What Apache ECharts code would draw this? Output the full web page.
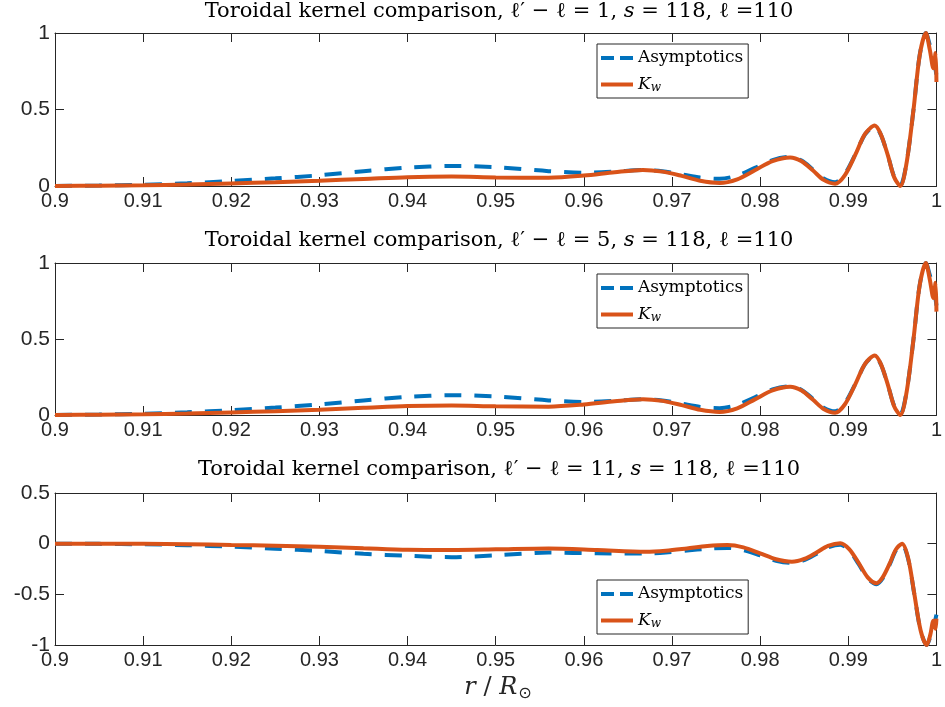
<!DOCTYPE html>
<html>
<head>
<meta charset="utf-8">
<script src="https://cdn.jsdelivr.net/npm/echarts@6/dist/echarts.min.js"></script>
<style>
  html, body { margin: 0; padding: 0; background: #fff; }
  #chart { width: 945px; height: 707px; }
</style>
</head>
<body>
<div id="chart"></div>
<script>
// radius grid (r / R_sun) for the first two panels
const r12 = [0.900, 0.905, 0.910, 0.915, 0.920, 0.925, 0.930, 0.935, 0.940, 0.945, 0.950,
  0.956, 0.960, 0.9635, 0.9667, 0.9689, 0.9711, 0.9732, 0.9754, 0.9774, 0.9794, 0.9814, 0.9834,
  0.9847, 0.9860, 0.9872, 0.9885, 0.9896, 0.9908, 0.9919, 0.9930, 0.9937, 0.9945, 0.9952, 0.9959,
  0.9966, 0.9974, 0.9981, 0.9988, 0.99925, 0.99965, 0.9999, 1.0];

// panel 1: l' - l = 1
const asym1 = [0, 0.003, 0.008, 0.018, 0.033, 0.050, 0.070, 0.097, 0.120, 0.131, 0.123,
  0.097, 0.087, 0.094, 0.105, 0.097, 0.076, 0.055, 0.047, 0.068, 0.118, 0.169, 0.190,
  0.166, 0.107, 0.049, 0.025, 0.078, 0.207, 0.337, 0.390, 0.334, 0.197, 0.062, 0.005,
  0.150, 0.500, 0.855, 1.000, 0.920, 0.830, 0.760, 0.720];
const kw1 = [0, 0.002, 0.005, 0.010, 0.017, 0.025, 0.035, 0.046, 0.058, 0.062, 0.056,
  0.054, 0.068, 0.090, 0.105, 0.094, 0.066, 0.034, 0.020, 0.044, 0.103, 0.163, 0.187,
  0.162, 0.101, 0.040, 0.015, 0.070, 0.205, 0.340, 0.395, 0.337, 0.198, 0.058, 0.000,
  0.146, 0.500, 0.854, 1.000, 0.890, 0.770, 0.870, 0.680];

// panel 2: l' - l = 5
const asym2 = [0, 0.003, 0.008, 0.018, 0.032, 0.049, 0.069, 0.096, 0.119, 0.130, 0.122,
  0.096, 0.086, 0.093, 0.104, 0.096, 0.074, 0.053, 0.045, 0.066, 0.117, 0.168, 0.189,
  0.165, 0.106, 0.048, 0.024, 0.077, 0.205, 0.335, 0.388, 0.332, 0.196, 0.061, 0.005,
  0.150, 0.500, 0.855, 1.000, 0.920, 0.830, 0.760, 0.720];
const kw2 = [0, 0.002, 0.005, 0.010, 0.017, 0.025, 0.035, 0.047, 0.059, 0.063, 0.057,
  0.055, 0.069, 0.090, 0.104, 0.093, 0.065, 0.034, 0.020, 0.044, 0.103, 0.162, 0.186,
  0.161, 0.100, 0.040, 0.015, 0.069, 0.203, 0.337, 0.392, 0.335, 0.197, 0.058, 0.000,
  0.146, 0.500, 0.854, 1.000, 0.890, 0.770, 0.870, 0.680];

// panel 3: l' - l = 11
const r3 = [0.900, 0.905, 0.910, 0.915, 0.920, 0.925, 0.930, 0.935, 0.940, 0.945, 0.950,
  0.956, 0.9615, 0.967, 0.9693, 0.9717, 0.9740, 0.9763, 0.9781, 0.9800, 0.9818, 0.9836,
  0.9850, 0.9864, 0.9877, 0.9891, 0.9901, 0.9912, 0.9922, 0.9932, 0.9939, 0.9947, 0.9954, 0.9961,
  0.9968, 0.9975, 0.9982, 0.9989, 0.9993, 0.99965, 0.9999, 1.0];
const asym3 = [0, -0.002, -0.006, -0.015, -0.030, -0.050, -0.072, -0.100, -0.120, -0.133, -0.115,
  -0.088, -0.095, -0.097, -0.088, -0.068, -0.050, -0.042, -0.064, -0.116, -0.168, -0.190,
  -0.163, -0.100, -0.037, -0.010, -0.066, -0.205, -0.344, -0.400, -0.343, -0.205, -0.068, -0.010,
  -0.155, -0.505, -0.855, -1.000, -0.920, -0.820, -0.740, -0.700];
const kw3 = [0, 0, -0.002, -0.006, -0.013, -0.020, -0.030, -0.045, -0.060, -0.062, -0.056,
  -0.047, -0.062, -0.080, -0.070, -0.047, -0.023, -0.013, -0.037, -0.096, -0.154, -0.178,
  -0.151, -0.087, -0.022, 0.005, -0.053, -0.193, -0.332, -0.390, -0.333, -0.195, -0.057, 0.000,
  -0.146, -0.500, -0.854, -1.000, -0.900, -0.760, -0.840, -0.740];

const xTicks = { min: 0.9, max: 1, interval: 0.01 };
const yRanges = [[0, 1], [0, 1], [-1, 0.5]];
const titles = ["1", "5", "11"];

const blue = '#0072BD';
const orange = '#D95319';
const frame = '#262626';
const serif = 'DejaVu Serif';

const zip = (xs, ys) => xs.map((x, i) => [x, ys[i]]);

const grids = [
  { left: 55, right: 5, top: 33, height: 153 },
  { left: 55, right: 5, top: 263, height: 152 },
  { left: 55, right: 5, top: 493, height: 152 }
];

const xAxes = [];
const yAxes = [];
grids.forEach((g, i) => {
  xAxes.push({
    type: 'value', gridIndex: i, min: xTicks.min, max: xTicks.max, interval: xTicks.interval,
    axisLine: { show: true, onZero: false, lineStyle: { color: frame, width: 1 } },
    axisTick: { show: true, inside: true, length: 9, lineStyle: { color: frame } },
    axisLabel: {
      fontFamily: 'Liberation Sans', fontSize: 20, color: frame, margin: 5,
      formatter: v => String(+v.toFixed(2))
    },
    splitLine: { show: false }
  });
  yAxes.push({
    type: 'value', gridIndex: i, min: yRanges[i][0], max: yRanges[i][1], interval: 0.5,
    axisLine: { show: true, onZero: false, lineStyle: { color: frame, width: 1 } },
    axisTick: { show: true, inside: true, length: 9, lineStyle: { color: frame } },
    axisLabel: { fontFamily: 'Liberation Sans', fontSize: 21, color: frame, margin: 5 },
    splitLine: { show: false }
  });
});
// box: top and right frame with inward ticks
grids.forEach((g, i) => {
  xAxes.push({
    type: 'value', gridIndex: i, position: 'top', min: xTicks.min, max: xTicks.max, interval: xTicks.interval,
    axisLine: { show: true, onZero: false, lineStyle: { color: frame, width: 1 } },
    axisTick: { show: true, inside: true, length: 9, lineStyle: { color: frame } },
    axisLabel: { show: false }, splitLine: { show: false }
  });
  yAxes.push({
    type: 'value', gridIndex: i, position: 'right', min: yRanges[i][0], max: yRanges[i][1], interval: 0.5,
    axisLine: { show: true, onZero: false, lineStyle: { color: frame, width: 1 } },
    axisTick: { show: true, inside: true, length: 9, lineStyle: { color: frame } },
    axisLabel: { show: false }, splitLine: { show: false }
  });
});

const panels = [
  [r12, asym1, kw1],
  [r12, asym2, kw2],
  [r3, asym3, kw3]
];
const series = [];
panels.forEach((p, i) => {
  series.push({
    type: 'line', name: 'Asymptotics', xAxisIndex: i, yAxisIndex: i,
    data: zip(p[0], p[1]), symbol: 'none', showSymbol: false,
    smooth: 0.3, clip: false,
    lineStyle: { color: blue, width: 4, type: [17, 13] }, itemStyle: { color: blue }
  });
  series.push({
    type: 'line', name: 'Kw', xAxisIndex: i, yAxisIndex: i,
    data: zip(p[0], p[2]), symbol: 'none', showSymbol: false,
    smooth: 0.3, clip: false,
    lineStyle: { color: orange, width: 4 }, itemStyle: { color: orange }
  });
});

const legendTops = [44, 274, 580];
const legends = legendTops.map(t => ({
  left: 597, top: t, orient: 'vertical',
  data: [
    { name: 'Asymptotics', icon: 'path://M0,0H13V4H0Z M19,0H32V4H19Z' },
    { name: 'Kw', icon: 'path://M0,0H32V4H0Z' }
  ],
  itemWidth: 32, itemHeight: 4, itemGap: 8, padding: [5, 5, 4, 4],
  borderColor: frame, borderWidth: 1, backgroundColor: '#fff', selectedMode: false,
  textStyle: {
    fontFamily: serif, fontSize: 17, color: '#000', lineHeight: 18,
    rich: {
      k: { fontFamily: serif, fontStyle: 'italic', fontSize: 17, color: '#000', lineHeight: 18 },
      w: { fontFamily: serif, fontStyle: 'italic', fontSize: 12, color: '#000', lineHeight: 18, padding: [7, 0, 0, 0] }
    }
  },
  formatter: name => name === 'Kw' ? '{k|K}{w|w}' : name
}));

const titleY = [12, 241, 470];
const graphics = titleY.map((y, i) => ({
  type: 'text', x: 499, y: y,
  style: {
    text: '{n|Toroidal kernel comparison, }{m|ℓ′ − ℓ = ' + titles[i] + ', }{i|s}{m| = 118, ℓ =110}',
    align: 'center', verticalAlign: 'middle',
    rich: {
      n: { fontFamily: serif, fontSize: 21, fill: '#000' },
      m: { fontFamily: serif, fontSize: 21, fill: '#000' },
      i: { fontFamily: serif, fontSize: 21, fontStyle: 'italic', fill: '#000' }
    }
  }
}));
graphics.push({
  type: 'text', x: 498, y: 688,
  style: {
    text: '{i|r}{n| / }{i|R}{s|⊙}',
    align: 'center', verticalAlign: 'middle',
    rich: {
      i: { fontFamily: serif, fontSize: 24, fontStyle: 'italic', fill: '#262626' },
      n: { fontFamily: serif, fontSize: 24, fill: '#262626' },
      s: { fontFamily: 'DejaVu Sans', fontSize: 16, fill: '#262626', padding: [12, 0, 0, 1] }
    }
  }
});

const chart = echarts.init(document.getElementById('chart'), null, { renderer: 'canvas' });
chart.setOption({
  animation: false,
  backgroundColor: '#fff',
  grid: grids,
  xAxis: xAxes,
  yAxis: yAxes,
  legend: legends,
  series: series,
  graphic: graphics
});
</script>
</body>
</html>
